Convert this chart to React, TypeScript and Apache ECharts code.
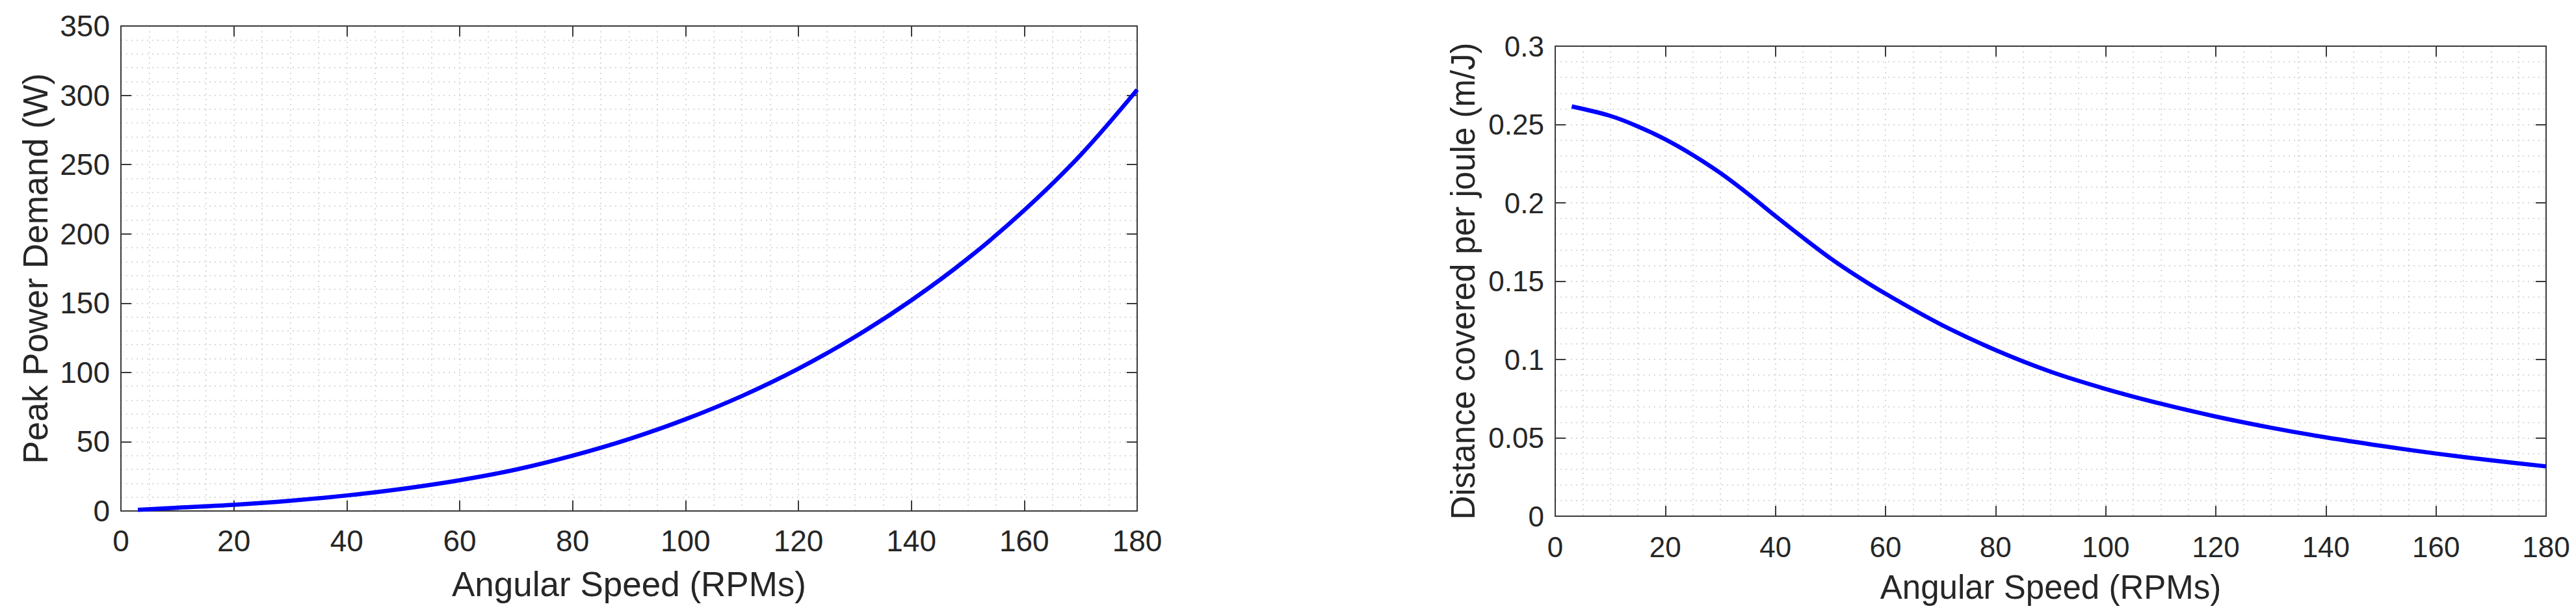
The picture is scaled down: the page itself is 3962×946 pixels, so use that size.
import React, { useEffect, useRef } from "react";
import * as echarts from "echarts";

// Left plot: angular speed (RPM) sample points and peak power demand (W)
const rpmPower = [3, 10, 20, 30, 40, 50, 60, 70, 80, 90, 100, 110, 120, 130, 140, 150, 160, 170, 180];
const peakPower = [0.8, 2.4, 4.5, 7.4, 11.2, 16.1, 22.2, 29.9, 39.9, 51.9, 66.2, 83.0, 102.7, 125.6, 152.0, 182.2, 217.0, 257.0, 304.0];

// Right plot: angular speed (RPM) sample points and distance covered per joule (m/J)
const rpmDist = [3, 10, 15, 20, 25, 30, 35, 40, 45, 50, 55, 60, 70, 80, 90, 100, 110, 120, 130, 140, 150, 160, 170, 180];
const distPerJoule = [0.2615, 0.2555, 0.2488, 0.2405, 0.2305, 0.219, 0.2058, 0.1916, 0.1778, 0.1646, 0.1528, 0.142, 0.1225, 0.106, 0.0922, 0.0812, 0.0718, 0.0636, 0.0565, 0.0503, 0.0449, 0.04, 0.0357, 0.0318];

const xTitle = "Angular Speed (RPMs)";
const yTitleLeft = "Peak Power Demand (W)";
const yTitleRight = "Distance covered per joule (m/J)";

const FONT = "'Liberation Sans', Arial, Helvetica, sans-serif";
const TEXT = "#262626";
const AXIS = "#3a3a3a";
const GRIDC = "#cdcdcd";

const gridLine = { show: true, lineStyle: { type: [2, 6] as any, color: GRIDC, width: 1.5 } };

function mainX(gridIndex: number, fs: number, margin: number, nameFs: number, nameGap: number) {
  return {
    type: "value",
    gridIndex,
    position: "bottom",
    min: 0,
    max: 180,
    interval: 20,
    name: xTitle,
    nameLocation: "middle",
    nameGap,
    nameTextStyle: { color: TEXT, fontSize: nameFs, fontFamily: FONT },
    axisLine: { show: true, onZero: false, lineStyle: { color: AXIS, width: 2 } },
    axisTick: { show: true, inside: true, length: 16, lineStyle: { color: AXIS, width: 2 } },
    axisLabel: { color: TEXT, fontSize: fs, fontFamily: FONT, margin },
    splitLine: gridLine,
    minorTick: { show: false, splitNumber: 4 },
    minorSplitLine: gridLine,
  };
}
function mirrorX(gridIndex: number) {
  return {
    type: "value",
    gridIndex,
    position: "top",
    min: 0,
    max: 180,
    interval: 20,
    axisLine: { show: true, onZero: false, lineStyle: { color: AXIS, width: 2 } },
    axisTick: { show: true, inside: true, length: 16, lineStyle: { color: AXIS, width: 2 } },
    axisLabel: { show: false },
    splitLine: { show: false },
  };
}
function mainY(gridIndex: number, max: number, interval: number, name: string, fs: number, nameFs: number, nameGap: number, fmt: (v: number) => string) {
  return {
    type: "value",
    gridIndex,
    position: "left",
    min: 0,
    max,
    interval,
    name,
    nameLocation: "middle",
    nameGap,
    nameTextStyle: { color: TEXT, fontSize: nameFs, fontFamily: FONT },
    axisLine: { show: true, onZero: false, lineStyle: { color: AXIS, width: 2 } },
    axisTick: { show: true, inside: true, length: 16, lineStyle: { color: AXIS, width: 2 } },
    axisLabel: { color: TEXT, fontSize: fs, fontFamily: FONT, margin: 17, formatter: fmt },
    splitLine: gridLine,
    minorTick: { show: false, splitNumber: 5 },
    minorSplitLine: gridLine,
  };
}
function mirrorY(gridIndex: number, max: number, interval: number) {
  return {
    type: "value",
    gridIndex,
    position: "right",
    min: 0,
    max,
    interval,
    axisLine: { show: true, onZero: false, lineStyle: { color: AXIS, width: 2 } },
    axisTick: { show: true, inside: true, length: 16, lineStyle: { color: AXIS, width: 2 } },
    axisLabel: { show: false },
    splitLine: { show: false },
  };
}

export default function App() {
  const ref = useRef<HTMLDivElement>(null);
  useEffect(() => {
    if (!ref.current) return;
    const chart = echarts.init(ref.current, null, { renderer: "svg" });
    const option = {
      animation: false,
      backgroundColor: "#ffffff",
      grid: [
        { left: 186, top: 40, width: 1563, height: 746 },
        { left: 2392, top: 71, width: 1524, height: 723 },
      ],
      xAxis: [mainX(0, 46, 23, 53, 86), mirrorX(0), mainX(1, 44, 25, 51, 84), mirrorX(1)],
      yAxis: [
        mainY(0, 350, 50, yTitleLeft, 46, 53, 105, (v) => String(v)),
        mirrorY(0, 350, 50),
        mainY(1, 0.3, 0.05, yTitleRight, 44, 51, 116, (v) => String(+v.toFixed(2))),
        mirrorY(1, 0.3, 0.05),
      ],
      series: [
        {
          type: "line",
          xAxisIndex: 0,
          yAxisIndex: 0,
          data: rpmPower.map((x, i) => [x, peakPower[i]]),
          showSymbol: false,
          smooth: 0.35,
          lineStyle: { color: "#0000ff", width: 6.5 },
        },
        {
          type: "line",
          xAxisIndex: 2,
          yAxisIndex: 2,
          data: rpmDist.map((x, i) => [x, distPerJoule[i]]),
          showSymbol: false,
          smooth: 0.35,
          lineStyle: { color: "#0000ff", width: 6.5 },
        },
      ],
    };
    chart.setOption(option as any);
    return () => chart.dispose();
  }, []);
  return (
    <div
      ref={ref}
      style={{ position: "fixed", left: 0, top: 0, width: 3962, height: 946, background: "#ffffff" }}
    />
  );
}
